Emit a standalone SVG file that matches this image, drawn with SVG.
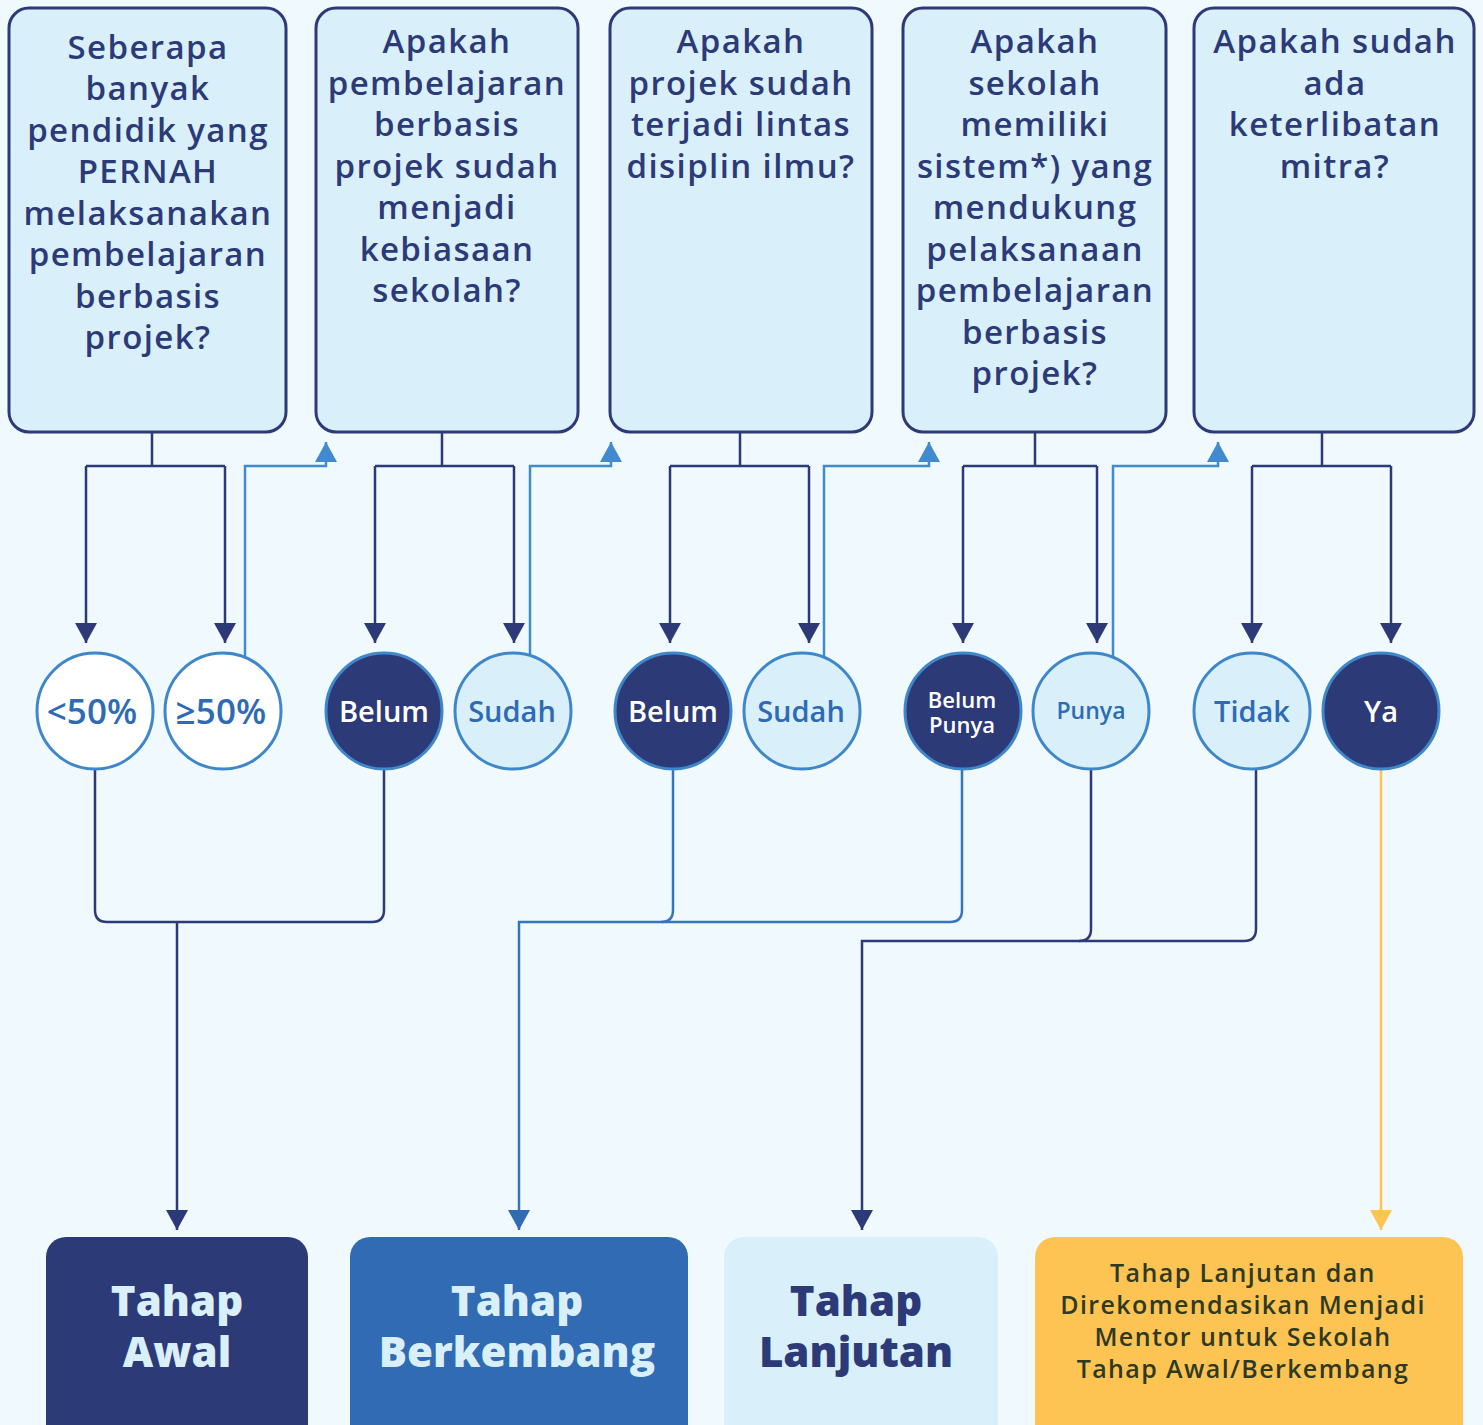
<svg xmlns="http://www.w3.org/2000/svg" width="1483" height="1425" viewBox="0 0 1483 1425">
<defs>
<style>
.q{fill:#d9f0fa;stroke:#2d3a78;stroke-width:3}
.qt{font-family:"Open Sans","Liberation Sans",sans-serif;font-weight:600;font-size:33px;fill:#2d3a78;text-anchor:middle;letter-spacing:1.4px}
.c{stroke:#3f87cb;stroke-width:3}
.cw{fill:#ffffff}
.cl{fill:#d9f0fa}
.cd{fill:#2d3a78}
.ct{font-family:"Open Sans","Liberation Sans",sans-serif;font-weight:600;text-anchor:middle}
.navy{fill:none;stroke:#2d3a78;stroke-width:2.5}
.lb{fill:none;stroke:#418ad0;stroke-width:2.5}
.mb{fill:none;stroke:#3575bd;stroke-width:2.5}
.yl{fill:none;stroke:#fcc452;stroke-width:2.5}
.bt{font-family:"Open Sans","Liberation Sans",sans-serif;font-weight:800;font-size:42px;text-anchor:middle}
.yt{font-family:"Open Sans","Liberation Sans",sans-serif;font-weight:600;font-size:25px;fill:#2f3a22;text-anchor:middle;letter-spacing:1.4px}
</style>
<marker id="an" markerUnits="userSpaceOnUse" markerWidth="24" markerHeight="22" viewBox="0 0 20 22" refX="20" refY="11" orient="auto"><path d="M0,0 L20,11 L0,22 Z" fill="#2d3a78"/></marker>
<marker id="al" markerUnits="userSpaceOnUse" markerWidth="24" markerHeight="22" viewBox="0 0 20 22" refX="20" refY="11" orient="auto"><path d="M0,0 L20,11 L0,22 Z" fill="#418ad0"/></marker>
<marker id="am" markerUnits="userSpaceOnUse" markerWidth="24" markerHeight="22" viewBox="0 0 20 22" refX="20" refY="11" orient="auto"><path d="M0,0 L20,11 L0,22 Z" fill="#306bb4"/></marker>
<marker id="ay" markerUnits="userSpaceOnUse" markerWidth="24" markerHeight="22" viewBox="0 0 20 22" refX="20" refY="11" orient="auto"><path d="M0,0 L20,11 L0,22 Z" fill="#fcc452"/></marker>
</defs>
<rect width="1483" height="1425" fill="#f0f9fd"/>

<g id="connectors">
<path class="navy" d="M152,432 V466 M86,466 H225"/>
<path class="navy" d="M86,466 V643" marker-end="url(#an)"/>
<path class="navy" d="M225,466 V643" marker-end="url(#an)"/>
<path class="navy" d="M442,432 V466 M375,466 H514"/>
<path class="navy" d="M375,466 V643" marker-end="url(#an)"/>
<path class="navy" d="M514,466 V643" marker-end="url(#an)"/>
<path class="navy" d="M740,432 V466 M670,466 H809"/>
<path class="navy" d="M670,466 V643" marker-end="url(#an)"/>
<path class="navy" d="M809,466 V643" marker-end="url(#an)"/>
<path class="navy" d="M1035,432 V466 M963,466 H1097"/>
<path class="navy" d="M963,466 V643" marker-end="url(#an)"/>
<path class="navy" d="M1097,466 V643" marker-end="url(#an)"/>
<path class="navy" d="M1322,432 V466 M1252,466 H1391"/>
<path class="navy" d="M1252,466 V643" marker-end="url(#an)"/>
<path class="navy" d="M1391,466 V643" marker-end="url(#an)"/>

<path class="lb" d="M245,658 V466 H326 V442" marker-end="url(#al)"/>
<path class="lb" d="M530,656 V466 H611 V442" marker-end="url(#al)"/>
<path class="lb" d="M824,658 V466 H929 V442" marker-end="url(#al)"/>
<path class="lb" d="M1113,658 V466 H1218 V442" marker-end="url(#al)"/>

<path class="navy" d="M95,770 V910 Q95,922 107,922 H372 Q384,922 384,910 V770"/>
<path class="navy" d="M177,922 V1230" marker-end="url(#an)"/>

<path class="mb" d="M673,770 V910 Q673,922 661,922"/>
<path class="mb" d="M962,770 V910 Q962,922 950,922 H519 V1230" marker-end="url(#am)"/>

<path class="navy" d="M1091,770 V929 Q1091,941 1079,941"/>
<path class="navy" d="M1256,770 V929 Q1256,941 1244,941 H862 V1230" marker-end="url(#an)"/>

<path class="yl" d="M1381,770 V1230" marker-end="url(#ay)"/>
</g>

<g id="q1">
<rect class="q" x="9" y="8" width="277" height="424" rx="20"/>
<text class="qt"><tspan x="148" y="59">Seberapa</tspan><tspan x="148" y="100">banyak</tspan><tspan x="148" y="142">pendidik yang</tspan><tspan x="148" y="183">PERNAH</tspan><tspan x="148" y="225">melaksanakan</tspan><tspan x="148" y="266">pembelajaran</tspan><tspan x="148" y="308">berbasis</tspan><tspan x="148" y="349">projek?</tspan></text>
</g>
<g id="q2">
<rect class="q" x="316" y="8" width="262" height="424" rx="20"/>
<text class="qt"><tspan x="447" y="53">Apakah</tspan><tspan x="447" y="95">pembelajaran</tspan><tspan x="447" y="136">berbasis</tspan><tspan x="447" y="178">projek sudah</tspan><tspan x="447" y="219">menjadi</tspan><tspan x="447" y="261">kebiasaan</tspan><tspan x="447" y="302">sekolah?</tspan></text>
</g>
<g id="q3">
<rect class="q" x="610" y="8" width="262" height="424" rx="20"/>
<text class="qt"><tspan x="741" y="53">Apakah</tspan><tspan x="741" y="95">projek sudah</tspan><tspan x="741" y="136">terjadi lintas</tspan><tspan x="741" y="178">disiplin ilmu?</tspan></text>
</g>
<g id="q4">
<rect class="q" x="903" y="8" width="263" height="424" rx="20"/>
<text class="qt"><tspan x="1035" y="53">Apakah</tspan><tspan x="1035" y="95">sekolah</tspan><tspan x="1035" y="136">memiliki</tspan><tspan x="1035" y="178">sistem*) yang</tspan><tspan x="1035" y="219">mendukung</tspan><tspan x="1035" y="261">pelaksanaan</tspan><tspan x="1035" y="302">pembelajaran</tspan><tspan x="1035" y="344">berbasis</tspan><tspan x="1035" y="385">projek?</tspan></text>
</g>
<g id="q5">
<rect class="q" x="1194" y="8" width="280" height="424" rx="20"/>
<text class="qt"><tspan x="1335" y="53">Apakah sudah</tspan><tspan x="1335" y="95">ada</tspan><tspan x="1335" y="136">keterlibatan</tspan><tspan x="1335" y="178">mitra?</tspan></text>
</g>

<g id="c1"><circle class="c cw" cx="95" cy="711" r="58"/><text class="ct" x="92" y="724" font-size="35" fill="#2f6bb5">&lt;50%</text></g>
<g id="c2"><circle class="c cw" cx="223" cy="711" r="58"/><text class="ct" x="221" y="724" font-size="35" fill="#2f6bb5">≥50%</text></g>
<g id="c3"><circle class="c cd" cx="384" cy="711" r="58"/><text class="ct" x="384" y="722" font-size="29" fill="#ffffff">Belum</text></g>
<g id="c4"><circle class="c cl" cx="513" cy="711" r="58"/><text class="ct" x="512" y="722" font-size="29" fill="#2f6bb5">Sudah</text></g>
<g id="c5"><circle class="c cd" cx="673" cy="711" r="58"/><text class="ct" x="673" y="722" font-size="29" fill="#ffffff">Belum</text></g>
<g id="c6"><circle class="c cl" cx="802" cy="711" r="58"/><text class="ct" x="801" y="722" font-size="29" fill="#2f6bb5">Sudah</text></g>
<g id="c7"><circle class="c cd" cx="963" cy="711" r="58"/><text class="ct" font-size="22" fill="#ffffff"><tspan x="962" y="708">Belum</tspan><tspan x="962" y="733">Punya</tspan></text></g>
<g id="c8"><circle class="c cl" cx="1091" cy="711" r="58"/><text class="ct" x="1091" y="719" font-size="23" fill="#2f6bb5">Punya</text></g>
<g id="c9"><circle class="c cl" cx="1252" cy="711" r="58"/><text class="ct" x="1252" y="722" font-size="29" fill="#2f6bb5">Tidak</text></g>
<g id="c10"><circle class="c cd" cx="1381" cy="711" r="58"/><text class="ct" x="1381" y="722" font-size="29" fill="#ffffff">Ya</text></g>

<g id="r1"><rect x="46" y="1237" width="262" height="230" rx="20" fill="#2d3a78"/><text class="bt" fill="#d9f0fa"><tspan x="177" y="1316">Tahap</tspan><tspan x="177" y="1367">Awal</tspan></text></g>
<g id="r2"><rect x="350" y="1237" width="338" height="230" rx="20" fill="#306bb4"/><text class="bt" fill="#d9f0fa"><tspan x="517" y="1316">Tahap</tspan><tspan x="517" y="1367">Berkembang</tspan></text></g>
<g id="r3"><rect x="724" y="1237" width="274" height="230" rx="20" fill="#d9f0fa"/><text class="bt" fill="#2d3a78"><tspan x="856" y="1316">Tahap</tspan><tspan x="856" y="1367">Lanjutan</tspan></text></g>
<g id="r4"><rect x="1035" y="1237" width="428" height="230" rx="20" fill="#fec453"/><text class="yt"><tspan x="1243" y="1282">Tahap Lanjutan dan</tspan><tspan x="1243" y="1314">Direkomendasikan Menjadi</tspan><tspan x="1243" y="1346">Mentor untuk Sekolah</tspan><tspan x="1243" y="1378">Tahap Awal/Berkembang</tspan></text></g>
</svg>
